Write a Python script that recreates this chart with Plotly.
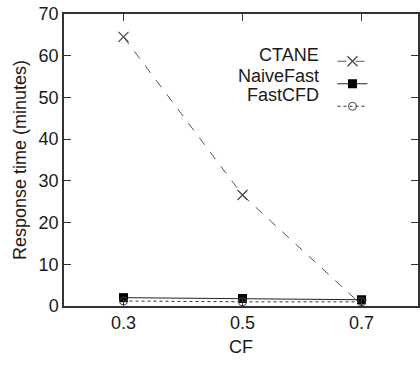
import plotly.graph_objects as go

cf = [0.3, 0.5, 0.7]
ctane = [64.5, 26.6, 0.3]
naivefast = [2.0, 1.8, 1.5]
fastcfd = [1.2, 1.0, 1.0]
series_names = ["CTANE", "NaiveFast", "FastCFD"]
y_ticks = [0, 10, 20, 30, 40, 50, 60, 70]

W, H = 420, 366
ML, MR, MT, MB = 64, 0, 14, 60

fig = go.Figure()
fig.add_trace(go.Scatter(x=cf, y=ctane, mode="lines+markers", name=" ",
                         line=dict(color="#555555", width=1, dash="dash"),
                         marker=dict(symbol="x-thin-open", size=10, color="#444444",
                                     line=dict(width=1.2, color="#444444"))))
fig.add_trace(go.Scatter(x=cf, y=naivefast, mode="lines+markers", name=" ",
                         line=dict(color="#222222", width=1),
                         marker=dict(symbol="square", size=9, color="#000000")))
fig.add_trace(go.Scatter(x=cf, y=fastcfd, mode="lines+markers", name=" ",
                         line=dict(color="#333333", width=1, dash="dot"),
                         marker=dict(symbol="circle-open", size=8, color="#444444",
                                     line=dict(width=1, color="#444444"))))

font = dict(family="Liberation Sans, Arial, sans-serif", size=18, color="#1a1a1a")
axis_common = dict(showline=True, linecolor="#333333", linewidth=1.5, mirror="ticks",
                   ticks="inside", ticklen=7, tickcolor="#333333", tickwidth=1,
                   showgrid=False, zeroline=False, tickfont=font)

pw = W - ML - MR
ph = H - MT - MB

def px_x(x):
    return (x - ML) / pw

def px_y(y):
    return (H - MB - y) / ph

fig.update_layout(
    width=W, height=H,
    margin=dict(l=ML, r=MR, t=MT, b=MB),
    paper_bgcolor="white", plot_bgcolor="white",
    font=font,
    showlegend=True,
    legend=dict(x=px_x(334), y=px_y(45), xanchor="left", yanchor="top",
                bgcolor="rgba(0,0,0,0)", font=dict(size=15), tracegroupgap=0, itemwidth=30),
    xaxis=dict(range=[0.2, 0.795], tickvals=cf, ticktext=["0.3", "0.5", "0.7"],
               title=dict(text="CF", font=font, standoff=8), **axis_common),
    yaxis=dict(range=[0, 70], tickvals=y_ticks,
               title=dict(text="Response time (minutes)", font=font, standoff=7), **axis_common),
)

label_y = [55, 76, 95]
for name, yy in zip(series_names, label_y):
    fig.add_annotation(x=px_x(322), y=px_y(yy), xref="paper", yref="paper", text=name,
                       showarrow=False, xanchor="right", yanchor="middle", font=font)

fig.write_html("out.html", config={"displayModeBar": False},
               post_script="document.body.style.margin='0';document.body.style.overflow='hidden';")
